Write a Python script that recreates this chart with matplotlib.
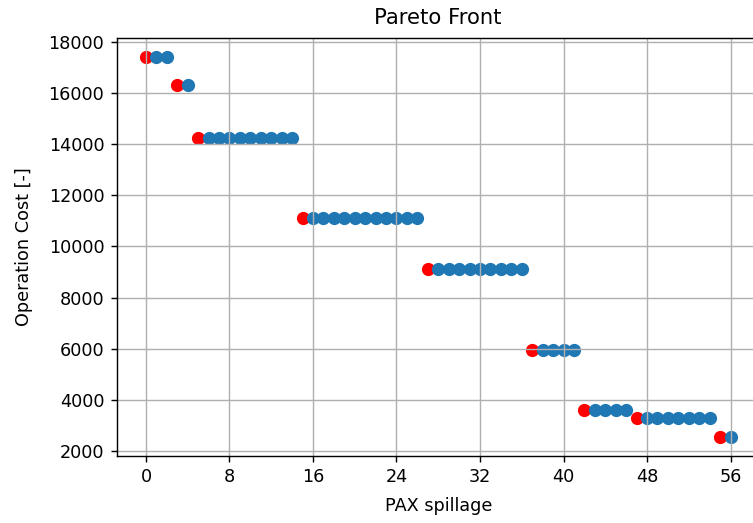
import matplotlib.pyplot as plt

# Pareto-optimal solutions (red)
front_spill = [0, 3, 5, 15, 27, 37, 42, 47, 55]
front_cost = [17400, 16300, 14250, 11130, 9110, 5950, 3620, 3300, 2550]

# remaining evaluated solutions (blue)
other_spill = [1, 2,
               4,
               6, 7, 8, 9, 10, 11, 12, 13, 14,
               16, 17, 18, 19, 20, 21, 22, 23, 24, 25, 26,
               28, 29, 30, 31, 32, 33, 34, 35, 36,
               38, 39, 40, 41,
               43, 44, 45, 46,
               48, 49, 50, 51, 52, 53, 54,
               56]
other_cost = [17400, 17400,
              16300,
              14250, 14250, 14250, 14250, 14250, 14250, 14250, 14250, 14250,
              11130, 11130, 11130, 11130, 11130, 11130, 11130, 11130, 11130, 11130, 11130,
              9110, 9110, 9110, 9110, 9110, 9110, 9110, 9110, 9110,
              5950, 5950, 5950, 5950,
              3620, 3620, 3620, 3620,
              3300, 3300, 3300, 3300, 3300, 3300, 3300,
              2550]

dpi = 127
fig = plt.figure(figsize=(753 / dpi, 523 / dpi), dpi=dpi)
ax = fig.add_axes([0.155, 0.128, 0.854, 0.799])

ax.scatter(front_spill, front_cost, color="red", s=42)
ax.scatter(other_spill, other_cost, color="tab:blue", s=42)

ax.set_xticks(range(0, 57, 8))
ax.set_xlabel("PAX spillage", labelpad=6)
ax.set_ylabel("Operation Cost [-]", labelpad=9)
ax.set_title("Pareto Front", pad=8)
ax.grid(True)

fig.savefig("out.png", dpi=dpi)
